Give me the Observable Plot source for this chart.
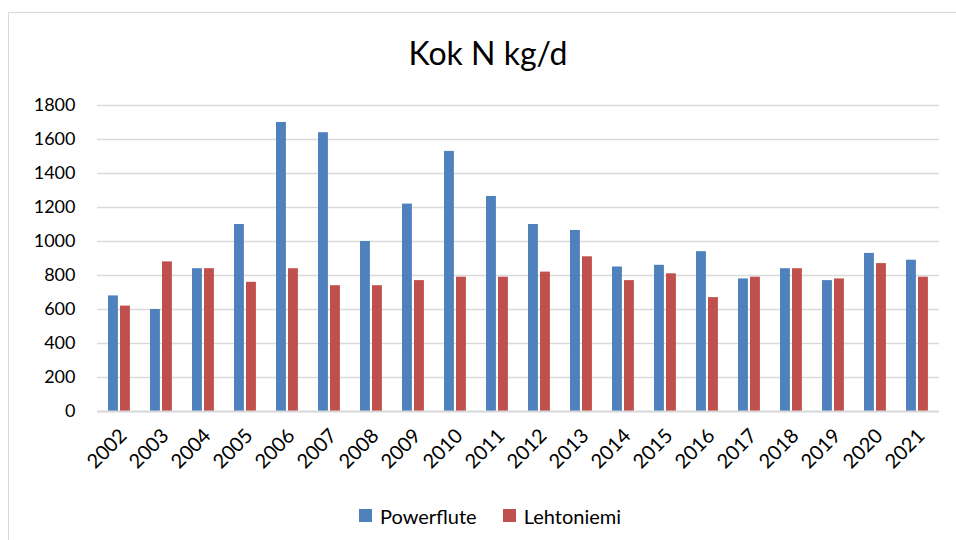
<!DOCTYPE html>
<html>
<head>
<meta charset="utf-8">
<script src="https://cdn.jsdelivr.net/npm/d3@7"></script>
<script src="https://cdn.jsdelivr.net/npm/@observablehq/plot@0.6"></script>
<style>
  html, body { margin: 0; padding: 0; background: #fff; }
  body { width: 956px; height: 540px; overflow: hidden; position: relative; font-family: Lato, "Open Sans", sans-serif; }
  #frame { position: absolute; left: 8px; top: 12px; width: 1000px; height: 600px; border: 1.5px solid #d9d9d9; box-sizing: border-box; }
  #title { position: absolute; left: 0; top: 33px; width: 976px; text-align: center; font-size: 32px; color: #000; }
  #chart { position: absolute; left: 0; top: 80px; }
  #legend { position: absolute; left: 0; top: 502px; width: 980px; text-align: center; font-size: 20px; color: #000; }
  #legend span.item { display: inline-flex; align-items: center; margin: 0 13px; }
  #legend span.sw { display: inline-block; width: 13px; height: 13px; margin-right: 8px; }
</style>
</head>
<body>
<div id="frame"></div>
<div id="title">Kok N kg/d</div>
<div id="chart"></div>
<div id="legend"></div>
<script>
const years = ["2002","2003","2004","2005","2006","2007","2008","2009","2010","2011","2012","2013","2014","2015","2016","2017","2018","2019","2020","2021"];
const powerflute = [680, 600, 840, 1100, 1700, 1640, 1000, 1220, 1530, 1265, 1100, 1065, 850, 860, 940, 780, 840, 770, 930, 890];
const lehtoniemi = [620, 880, 840, 760, 840, 740, 740, 770, 790, 790, 820, 910, 770, 810, 670, 790, 840, 780, 870, 790];
const seriesNames = ["Powerflute", "Lehtoniemi"];
const seriesColors = ["#4F81BD", "#C0504D"];
const yTicks = [0, 200, 400, 600, 800, 1000, 1200, 1400, 1600, 1800];

const pfData = years.map((y, i) => ({year: y, value: powerflute[i], series: seriesNames[0]}));
const lhData = years.map((y, i) => ({year: y, value: lehtoniemi[i], series: seriesNames[1]}));

const chart = Plot.plot({
  width: 956,
  height: 410,
  marginTop: 25,
  marginBottom: 79,
  marginLeft: 97,
  marginRight: 17,
  style: {fontFamily: "Lato, 'Open Sans', sans-serif", fontSize: "18px", color: "#000", background: "transparent"},
  x: {domain: years, padding: 0, label: null},
  y: {domain: [0, 1800], label: null},
  color: {domain: seriesNames, range: seriesColors},
  marks: [
    Plot.ruleY(yTicks, {stroke: "#d9d9d9", strokeWidth: 1.5}),
    Plot.barY(pfData, {x: "year", y: "value", fill: "series", insetLeft: 10, insetRight: 22.1}),
    Plot.barY(lhData, {x: "year", y: "value", fill: "series", insetLeft: 22, insetRight: 10.1}),
    Plot.ruleY([0], {stroke: "#d9d9d9", strokeWidth: 2}),
    Plot.axisY({ticks: yTicks, tickFormat: d => String(d), tickSize: 0, tickPadding: 22, fontSize: 18, label: null}),
    Plot.axisX({tickSize: 0, tickRotate: -45, tickPadding: 21, dx: 4, fontSize: 20, label: null})
  ]
});
document.getElementById("chart").appendChild(chart);

const legend = document.getElementById("legend");
seriesNames.forEach((name, i) => {
  const item = document.createElement("span");
  item.className = "item";
  const sw = document.createElement("span");
  sw.className = "sw";
  sw.style.background = seriesColors[i];
  item.appendChild(sw);
  item.appendChild(document.createTextNode(name));
  legend.appendChild(item);
});
</script>
</body>
</html>
